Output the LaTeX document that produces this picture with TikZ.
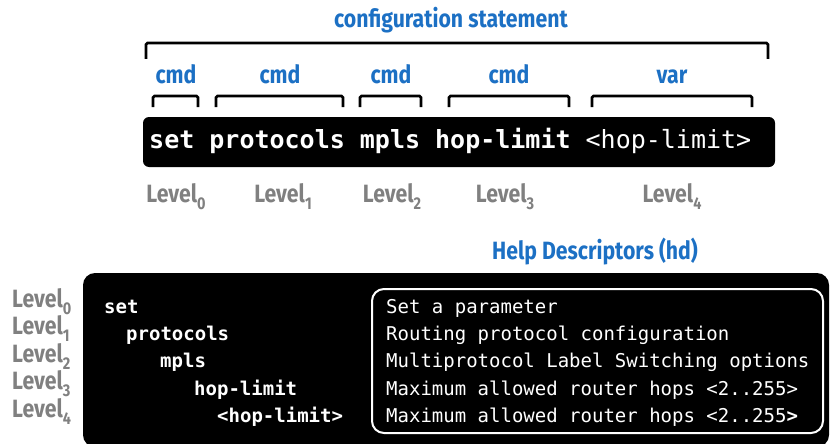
\documentclass[tikz,border=0pt]{standalone}
\usepackage{fontspec}
\usepackage{tikz}
\usetikzlibrary{positioning}

\newfontfamily\termfont{DejaVu Sans Mono}
\newfontfamily\handfont[FakeStretch=0.85]{Fira Sans}
\definecolor{HandBlue}{RGB}{28,112,196}
\definecolor{LevelGray}{RGB}{128,128,128}
\newcommand{\lvl}[1]{Level\raisebox{-0.3em}{\fontsize{17}{17}\selectfont #1}}

\begin{document}
\begin{tikzpicture}[x=1pt, y=-1pt]
  \tikzset{TermStyle/.style = {fill         = black,
                               rounded corners = 6pt}}
  \tikzset{BraceStyle/.style = {draw, line width = 2.6pt,
                                rounded corners = 1.5pt}}
  \tikzset{BlueStyle/.style = {text = HandBlue, inner sep = 0pt,
                               font = \handfont\bfseries\fontsize{25}{25}\selectfont}}
  \tikzset{LevelStyle/.style = {text = LevelGray, inner sep = 0pt,
                                font = \handfont\bfseries\fontsize{25}{25}\selectfont}}
  \tikzset{CmdStyle/.style = {text = white, inner sep = 0pt, anchor = base west,
                              font = \termfont\bfseries\fontsize{19}{19}\selectfont}}
  \tikzset{HelpStyle/.style = {text = white, inner sep = 0pt, anchor = base west,
                               font = \termfont\fontsize{19}{19}\selectfont}}
  \useasboundingbox (0,0) rectangle (830,444);

	%%% STATEMENT %%%
	\node[BlueStyle, anchor=base] (stmt) at (451,28) {configuration statement};
	\draw[BraceStyle] (146,59) -- (146,43) -- (768,43) -- (768,59);
	%
	\node[BlueStyle, anchor=base] (cmd0) at (176,83) {cmd};
	\node[BlueStyle, anchor=base] (cmd1) at (280,83) {cmd};
	\node[BlueStyle, anchor=base] (cmd2) at (391,83) {cmd};
	\node[BlueStyle, anchor=base] (cmd3) at (509,83) {cmd};
	\node[BlueStyle, anchor=base] (var4) at (672,83) {var};
	\draw[BraceStyle] (153,107) -- (153,96) -- (198,96) -- (198,107);
	\draw[BraceStyle] (216,107) -- (216,96) -- (343,96) -- (343,107);
	\draw[BraceStyle] (360,107) -- (360,96) -- (421,96) -- (421,107);
	\draw[BraceStyle] (449,107) -- (449,96) -- (569,96) -- (569,107);
	\draw[BraceStyle] (592,107) -- (592,96) -- (752,96) -- (752,107);
	%
	\fill[TermStyle] (143,117) rectangle (775,167);
	\node[CmdStyle, font=\termfont\bfseries\fontsize{25}{25}\selectfont] (line) at (149,148)
	  {set protocols mpls hop-limit \mdseries<hop-limit>};
	%
	\node[LevelStyle, anchor=base] (top0) at (176,202) {\lvl{0}};
	\node[LevelStyle, anchor=base] (top1) at (283,202) {\lvl{1}};
	\node[LevelStyle, anchor=base] (top2) at (392,202) {\lvl{2}};
	\node[LevelStyle, anchor=base] (top3) at (505,202) {\lvl{3}};
	\node[LevelStyle, anchor=base] (top4) at (672,202) {\lvl{4}};

	%%% HELP %%%
	\node[BlueStyle, anchor=base] (hd) at (595,259) {Help Descriptors (hd)};
	\fill[TermStyle, rounded corners=12pt] (83,273) rectangle (829,447);
	\draw[white, line width=2pt, rounded corners=12pt] (372,289) rectangle (823,433);
	%
	\node[LevelStyle, anchor=base west] (lev0) at (12,307) {\lvl{0}};
	\node[LevelStyle, anchor=base west] (lev1) at (12,334) {\lvl{1}};
	\node[LevelStyle, anchor=base west] (lev2) at (12,362) {\lvl{2}};
	\node[LevelStyle, anchor=base west] (lev3) at (12,389) {\lvl{3}};
	\node[LevelStyle, anchor=base west] (lev4) at (12,417) {\lvl{4}};
	%
	\node[CmdStyle] (set)   at (104,313) {set};
	\node[CmdStyle] (proto) at (126,340) {protocols};
	\node[CmdStyle] (mpls)  at (160,367) {mpls};
	\node[CmdStyle] (hop)   at (194,395) {hop-limit};
	\node[CmdStyle] (hopv)  at (217,422) {<hop-limit>};
	%
	\node[HelpStyle] (help0) at (386,313) {Set a parameter};
	\node[HelpStyle] (help1) at (386,340) {Routing protocol configuration};
	\node[HelpStyle] (help2) at (386,367) {Multiprotocol Label Switching options};
	\node[HelpStyle] (help3) at (386,395) {Maximum allowed router hops <2..255>};
	\node[HelpStyle] (help4) at (386,422) {Maximum allowed router hops <2..255\textbf{>}};
\end{tikzpicture}
\end{document}
